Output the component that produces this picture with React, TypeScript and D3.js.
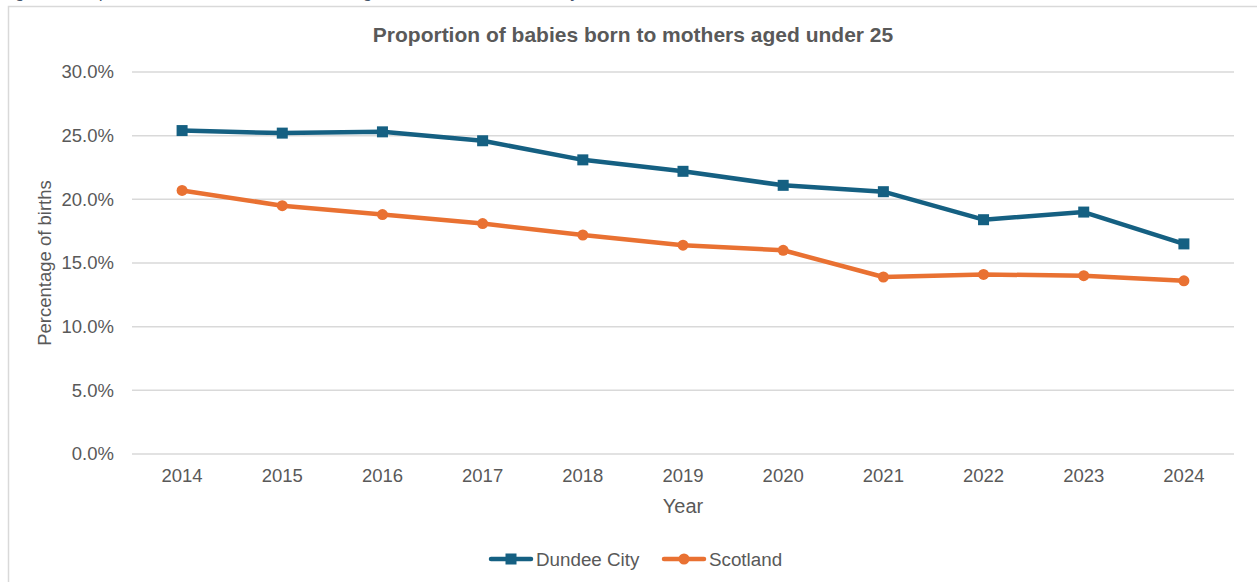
import React from "react";
import * as d3 from "d3";

const years = ["2014", "2015", "2016", "2017", "2018", "2019", "2020", "2021", "2022", "2023", "2024"];
const dundee = [25.4, 25.2, 25.3, 24.6, 23.1, 22.2, 21.1, 20.6, 18.4, 19.0, 16.5];
const scotland = [20.7, 19.5, 18.8, 18.1, 17.2, 16.4, 16.0, 13.9, 14.1, 14.0, 13.6];
const yTicks = [0, 5, 10, 15, 20, 25, 30];

const W = 1257;
const H = 582;
const FONT = "'Liberation Sans', Arial, sans-serif";
const GREY = "#595959";
const BLUE = "#156082";
const ORANGE = "#E97132";

export default function App() {
  const x = d3.scaleBand<string>().domain(years).range([132, 1234]);
  const cx = (yr: string) => (x(yr) as number) + x.bandwidth() / 2;
  const y = d3.scaleLinear().domain([0, 30]).range([454, 72]);
  const line = d3
    .line<number>()
    .x((_, i) => cx(years[i]))
    .y((v) => y(v));

  return (
    <div style={{ position: "absolute", left: 0, top: 0, width: W, height: H, background: "#fff" }}>
      <svg width={W} height={H} style={{ display: "block" }} fontFamily={FONT}>
        <text x={2} y={-2} fontSize={17} fontStyle="italic" fill="#44546A">
          Figure 8: Proportion of babies born to mothers aged under 25 in Dundee City and Scotland, 2014 to 2024
        </text>
        <rect x={8.5} y={6.5} width={1400} height={800} fill="#fff" stroke="#d9d9d9" strokeWidth={1.5} />
        <text x={633} y={42} textAnchor="middle" fontSize={21} fontWeight="bold" fill={GREY}>
          Proportion of babies born to mothers aged under 25
        </text>
        {yTicks.map((t) => (
          <g key={t}>
            <line x1={132} x2={1234} y1={y(t)} y2={y(t)} stroke="#d9d9d9" strokeWidth={1.5} />
            <text x={114} y={y(t)} dy="0.35em" textAnchor="end" fontSize={18.5} fill={GREY}>
              {t.toFixed(1) + "%"}
            </text>
          </g>
        ))}
        {years.map((yr) => (
          <text key={yr} x={cx(yr)} y={482} textAnchor="middle" fontSize={18.5} fill={GREY}>
            {yr}
          </text>
        ))}
        <text
          transform="translate(45,263) rotate(-90)"
          textAnchor="middle"
          dy="0.35em"
          fontSize={18.5}
          fill={GREY}
        >
          Percentage of births
        </text>
        <text x={683} y={506} dy="0.35em" textAnchor="middle" fontSize={20} fill={GREY}>
          Year
        </text>

        <path d={line(scotland) || ""} fill="none" stroke={ORANGE} strokeWidth={4.5} strokeLinejoin="round" strokeLinecap="round" />
        {scotland.map((v, i) => (
          <circle key={i} cx={cx(years[i])} cy={y(v)} r={5.5} fill={ORANGE} />
        ))}
        <path d={line(dundee) || ""} fill="none" stroke={BLUE} strokeWidth={4.5} strokeLinejoin="round" strokeLinecap="round" />
        {dundee.map((v, i) => (
          <rect key={i} x={cx(years[i]) - 5.5} y={y(v) - 5.5} width={11} height={11} fill={BLUE} />
        ))}

        <g>
          <line x1={491} x2={531} y1={559} y2={559} stroke={BLUE} strokeWidth={4.5} strokeLinecap="round" />
          <rect x={505.5} y={553.5} width={11} height={11} fill={BLUE} />
          <text x={536} y={559} dy="0.35em" fontSize={18.8} fill={GREY}>
            Dundee City
          </text>
          <line x1={664} x2={704} y1={559} y2={559} stroke={ORANGE} strokeWidth={4.5} strokeLinecap="round" />
          <circle cx={684} cy={559} r={5.5} fill={ORANGE} />
          <text x={709} y={559} dy="0.35em" fontSize={18.8} fill={GREY}>
            Scotland
          </text>
        </g>
      </svg>
    </div>
  );
}
